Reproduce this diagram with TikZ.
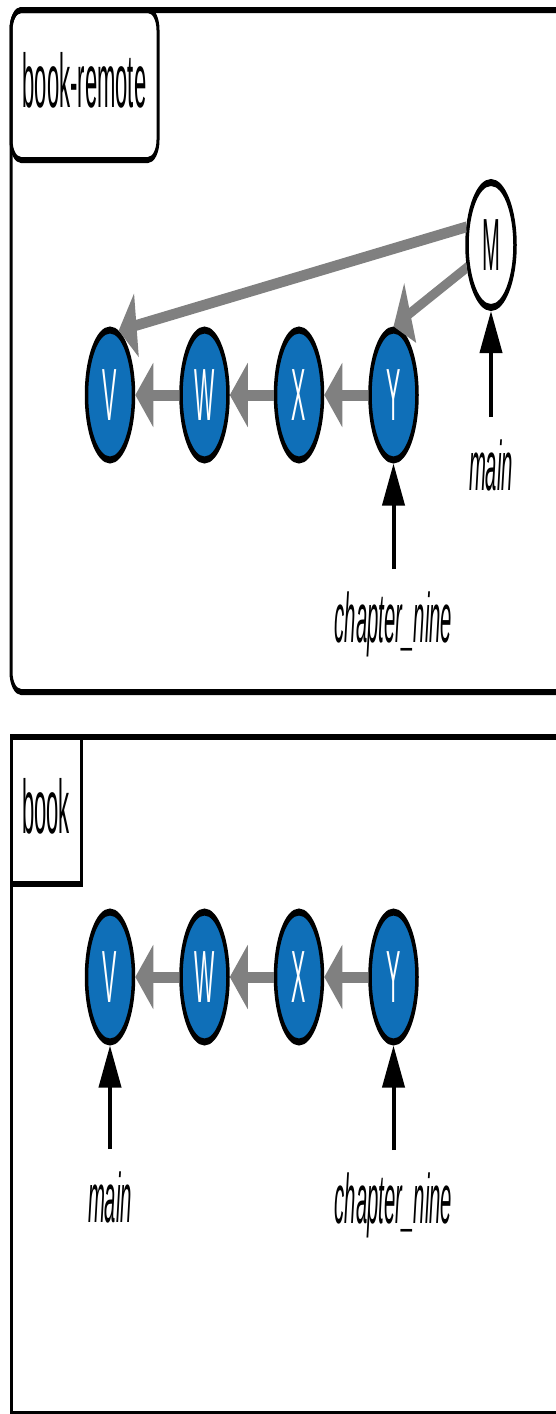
\documentclass[tikz,border=0pt]{standalone}
\usepackage{fontspec}
\setmainfont{Liberation Sans}[FakeStretch=0.58]
\usepackage{tikz}
\usetikzlibrary{arrows.meta,positioning,shapes.geometric}
\definecolor{Commit}{HTML}{0F6FB8}
\definecolor{Link}{HTML}{808080}

\begin{document}
\begin{tikzpicture}[
  commit/.style={draw,ellipse,line width=7pt,fill=Commit,text=white,minimum width=94pt,minimum height=130pt,inner sep=0pt,font=\fontsize{74}{74}\selectfont},
  link/.style={draw=Link,line width=11pt,-{Triangle[length=36pt,width=62pt]}},
  ptr/.style={line width=8pt,-{Triangle[length=42pt,width=44pt]},shorten <=22pt},
  branch/.style={inner sep=0pt,anchor=base,font=\fontsize{70}{70}\selectfont\itshape},
  tag/.style={draw,line width=6pt,anchor=north west,inner sep=0pt,outer sep=0pt,text depth=10pt,font=\fontsize{76}{76}\selectfont},
  frame/.style={draw,line width=6pt}]
  \useasboundingbox (0pt,0pt) rectangle (556pt,-1414pt);
  \begin{scope}[overlay,transform canvas={xscale=0.5},x=2pt,y=-1pt]
  \draw[frame,rounded corners=20pt] (11,10) rectangle (640,692);
  \node[tag,rounded corners=20pt,minimum width=294pt,minimum height=150pt] (remote) at (11,10) {book-remote};
  \node[commit,fill=white,text=black,minimum width=96pt,minimum height=125pt] (rM) at (491,245) {M};
  \node[commit] (rV) at (110,395) {V};
  \node[commit,right=88pt of rV] (rW) {W};
  \node[commit,right=88pt of rW] (rX) {X};
  \node[commit,right=88pt of rX] (rY) {Y};
  \draw[link] (rW) -- (rV);
  \draw[link] (rX) -- (rW);
  \draw[link] (rY) -- (rX);
  \draw[link] (rM.160) -- (rV.75);
  \draw[link] (rM.205) -- (rY.north);
  \node[branch] (rmain) at (491,490) {main};
  \node[branch] (rchap) at (393.5,642) {chapter\_nine};
  \draw[ptr] (rmain.north) -- (rM.south);
  \draw[ptr] (rchap.north) -- (rY.south);

  \draw[frame] (11,737) rectangle (640,1414);
  \node[tag,minimum width=140pt,minimum height=147pt] (local) at (11,737) {book};
  \node[commit] (lV) at (110,977) {V};
  \node[commit,right=88pt of lV] (lW) {W};
  \node[commit,right=88pt of lW] (lX) {X};
  \node[commit,right=88pt of lX] (lY) {Y};
  \draw[link] (lW) -- (lV);
  \draw[link] (lX) -- (lW);
  \draw[link] (lY) -- (lX);
  \node[branch] (lmain) at (110,1222) {main};
  \node[branch] (lchap) at (393.5,1223) {chapter\_nine};
  \draw[ptr] (lmain.north) -- (lV.south);
  \draw[ptr] (lchap.north) -- (lY.south);
  \end{scope}
\end{tikzpicture}
\end{document}
